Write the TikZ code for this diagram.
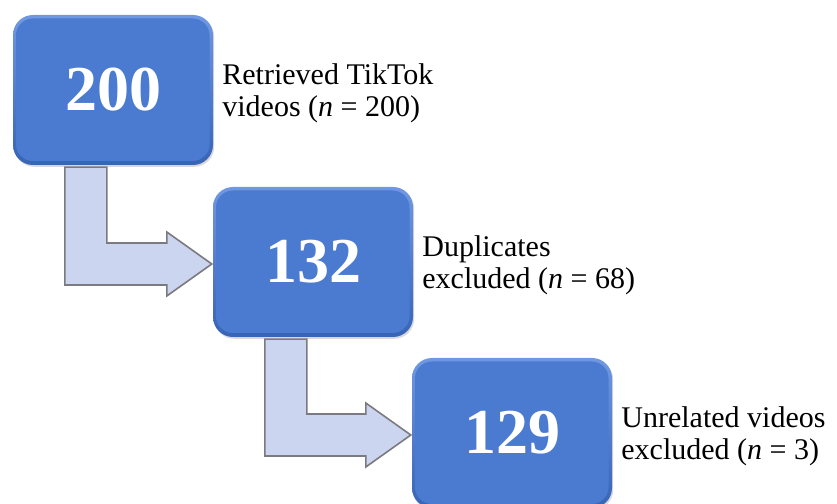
\documentclass[tikz,border=0pt]{standalone}
\usepackage{fontspec}
\setmainfont{Liberation Serif}
\usetikzlibrary{calc,shadows}
\definecolor{boxblue}{RGB}{74,123,208}
\definecolor{boxtop}{RGB}{112,152,226}
\definecolor{boxbot}{RGB}{56,100,182}
\definecolor{arrowfill}{RGB}{204,213,239}
\definecolor{arrowline}{RGB}{122,122,128}
\begin{document}
\begin{tikzpicture}[x=1pt,y=1pt,
  numbox/.style={rounded corners=20pt, minimum width=200pt, minimum height=150pt,
    inner sep=0pt, top color=boxtop, bottom color=boxbot, text=white,
    font=\fontsize{64}{64}\selectfont\bfseries,
    drop shadow={shadow xshift=1.2pt, shadow yshift=-1.8pt, opacity=0.3},
    path picture={\fill[boxblue, rounded corners=17pt]
      ([shift={(3pt,4pt)}]path picture bounding box.south west) rectangle
      ([shift={(-3.5pt,-3.5pt)}]path picture bounding box.north east);}},
  lab/.style={anchor=base west, inner sep=0pt, font=\fontsize{30}{32}\selectfont},
  flowarrow/.style={fill=arrowfill, draw=arrowline, line width=1.6pt, line join=miter}]
\useasboundingbox (0,0) rectangle (837,503);

\node[numbox] (b1) at (113,413) {200};
\node[numbox] (b2) at (313,241) {132};
\node[numbox] (b3) at (512,70) {129};

\node[lab] (l1) at ($(b1.east)+(9,5)$) {\begin{tabular}[t]{@{}l@{}}Retrieved TikTok\\videos (\textit{n} = 200)\end{tabular}};
\node[lab] (l2) at ($(b2.east)+(9,5)$) {\begin{tabular}[t]{@{}l@{}}Duplicates\\excluded (\textit{n} = 68)\end{tabular}};
\node[lab] (l3) at ($(b3.east)+(9,5)$) {\begin{tabular}[t]{@{}l@{}}Unrelated videos\\excluded (\textit{n} = 3)\end{tabular}};

\draw[flowarrow] let \p1=($(b1.south west)+(52,-2)$), \p2=($(b2.west)+(-1,-2)$) in
  (\x1,\y1) -- (\x1+42,\y1) -- (\x1+42,\y2+21) -- (\x2-45,\y2+21) -- (\x2-45,\y2+32)
  -- (\x2,\y2) -- (\x2-45,\y2-32) -- (\x2-45,\y2-21) -- (\x1,\y2-21) -- cycle;
\draw[flowarrow] let \p1=($(b2.south west)+(52,-2)$), \p2=($(b3.west)+(-1,-2)$) in
  (\x1,\y1) -- (\x1+42,\y1) -- (\x1+42,\y2+21) -- (\x2-45,\y2+21) -- (\x2-45,\y2+32)
  -- (\x2,\y2) -- (\x2-45,\y2-32) -- (\x2-45,\y2-21) -- (\x1,\y2-21) -- cycle;
\end{tikzpicture}
\end{document}
